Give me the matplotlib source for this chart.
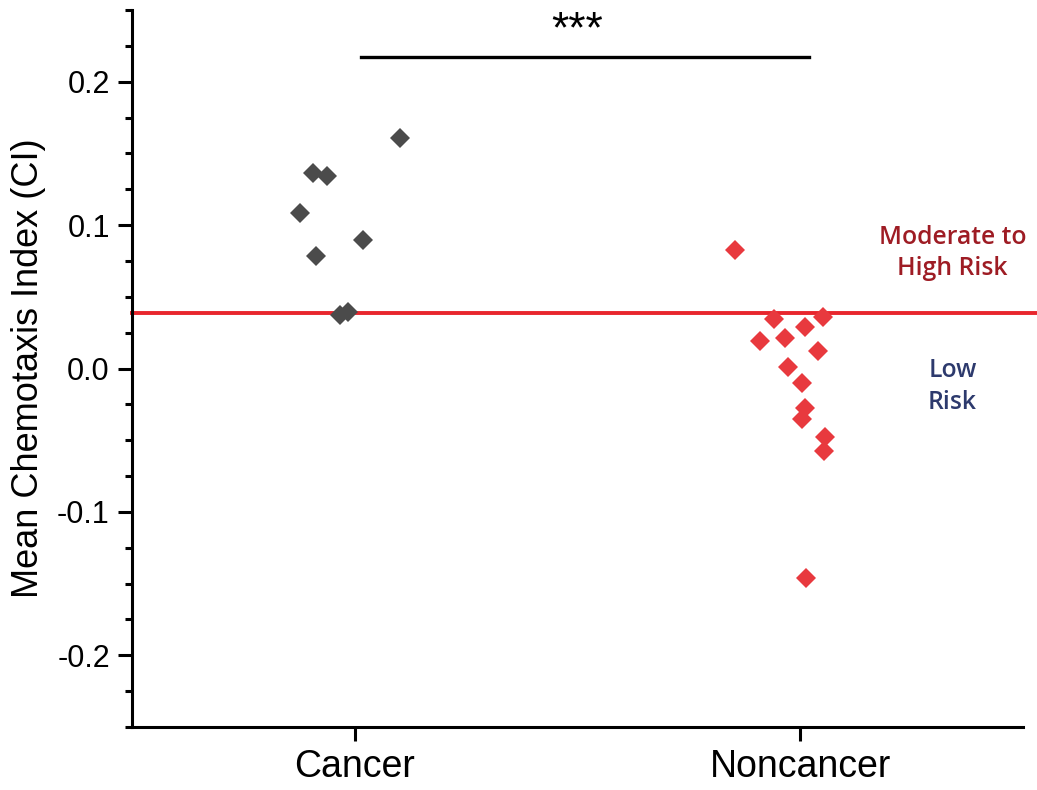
import numpy as np
import matplotlib.pyplot as plt
from matplotlib.ticker import MultipleLocator

# groups
groups = ['Cancer', 'Noncancer']

# jittered x positions and mean CI values
cancer_x = [1.101, 0.906, 0.937, 0.876, 1.018, 0.912, 0.966, 0.984]
cancer_ci = [0.161, 0.1366, 0.1345, 0.1087, 0.0899, 0.0787, 0.0376, 0.0397]

noncancer_x = [1.854, 1.942, 2.052, 2.011, 1.910, 1.966, 2.040, 1.973,
               2.004, 2.011, 2.004, 2.056, 2.054, 2.013]
noncancer_ci = [0.0829, 0.0348, 0.0362, 0.0293, 0.0195, 0.0216, 0.0125, 0.0014,
                -0.0098, -0.0272, -0.0355, -0.048, -0.0578, -0.1463]

threshold = 0.039
sig_y = 0.2174

plt.rcParams['font.family'] = ['Liberation Sans', 'DejaVu Sans']

fig = plt.figure(figsize=(10.37, 7.90), dpi=100)
ax = fig.add_axes([0.1273, 0.0797, 0.8592, 0.9076])

# threshold line (runs a bit past the axis end)
ax.plot([0.5, 2.535], [threshold, threshold], color='#e8262d', lw=2.8,
        clip_on=False, zorder=1)

ax.plot(cancer_x, cancer_ci, 'D', color='#4b4b4b', ms=10.5, mew=0, zorder=3)
ax.plot(noncancer_x, noncancer_ci, 'D', color='#e8393e', ms=10.5, mew=0, zorder=3)

# significance bar
ax.plot([1.013, 2.02], [sig_y, sig_y], color='black', lw=2.4, clip_on=False)
ax.text(1.5, sig_y + 0.004, '***', ha='center', va='bottom', fontsize=32)

risk_font = ['Open Sans', 'DejaVu Sans']
ax.text(2.342, 0.0805, 'Moderate to\nHigh Risk', color='#9e1c24', ha='center',
        va='center', fontsize=17.8, weight='semibold', linespacing=1.3,
        family=risk_font)
ax.text(2.342, -0.0125, 'Low\nRisk', color='#2d3a6d', ha='center',
        va='center', fontsize=17.8, weight='semibold', linespacing=1.35,
        family=risk_font)

ax.set_xlim(0.5, 2.5)
ax.set_ylim(-0.25, 0.25)
ax.set_xticks([1, 2])
ax.set_xticklabels(groups, fontsize=27)
ax.set_yticks([-0.2, -0.1, 0.0, 0.1, 0.2])
ax.set_yticklabels(['-0.2', '-0.1', '0.0', '0.1', '0.2'], fontsize=22)
ax.yaxis.set_minor_locator(MultipleLocator(0.025))
ax.set_ylabel('Mean Chemotaxis Index (CI)', fontsize=26, labelpad=8)

for s in ['top', 'right']:
    ax.spines[s].set_visible(False)
for s in ['left', 'bottom']:
    ax.spines[s].set_linewidth(2.2)

ax.tick_params(axis='both', which='major', direction='out', length=10, width=2.2, pad=6)
ax.tick_params(axis='y', which='minor', direction='out', length=5, width=2.2)

fig.savefig('out.png', dpi=100)
